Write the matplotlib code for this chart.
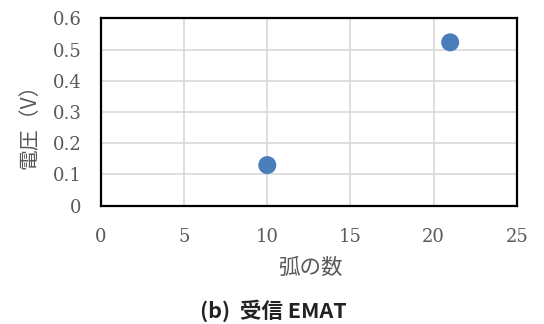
import matplotlib
matplotlib.use('Agg')
import matplotlib.pyplot as plt

# data
arc_count = [10, 21]
voltage = [0.13, 0.523]
x_ticks = [0, 5, 10, 15, 20, 25]
y_ticks = [0, 0.1, 0.2, 0.3, 0.4, 0.5, 0.6]
y_tick_labels = ["0", "0.1", "0.2", "0.3", "0.4", "0.5", "0.6"]

jp = ["Noto Sans CJK JP", "DejaVu Sans"]
num_font = "DejaVu Serif"
grey = "#595959"

fig = plt.figure(figsize=(5.44, 3.24), dpi=100)
ax = fig.add_axes([101 / 544, 1 - 205.7 / 324, 415.7 / 544, 187.4 / 324])

ax.scatter(arc_count, voltage, s=13 ** 2, color="#4a7ebb", zorder=3,
           edgecolors="none")

ax.set_xlim(0, 25)
ax.set_ylim(0, 0.6)
ax.set_xticks(x_ticks)
ax.set_yticks(y_ticks)
ax.set_xticklabels([str(t) for t in x_ticks])
ax.set_yticklabels(y_tick_labels)
for lab in ax.get_xticklabels() + ax.get_yticklabels():
    lab.set_fontfamily(num_font)
    lab.set_fontsize(13)
    lab.set_color(grey)
ax.tick_params(axis="both", length=0)
ax.tick_params(axis="y", pad=14)
ax.tick_params(axis="x", pad=16)

ax.grid(True, color="#d9d9d9", linewidth=1.2)
ax.set_axisbelow(True)
for sp in ax.spines.values():
    sp.set_linewidth(1.6)
    sp.set_color("black")

fig.text(29 / 544, 1 - 121 / 324, "電圧（V）", rotation=90, ha="center",
         va="center", family=jp, fontsize=15, color=grey)
fig.text(310 / 544, 1 - 268 / 324, "弧の数", ha="center", va="center",
         family=jp, fontsize=15.5, color=grey)
fig.text(273 / 544, 1 - 311 / 324, "(b)  受信 EMAT", ha="center", va="center",
         family=jp, fontsize=15.5, fontweight="bold", color="#222222")

fig.savefig("out.png", dpi=100)
